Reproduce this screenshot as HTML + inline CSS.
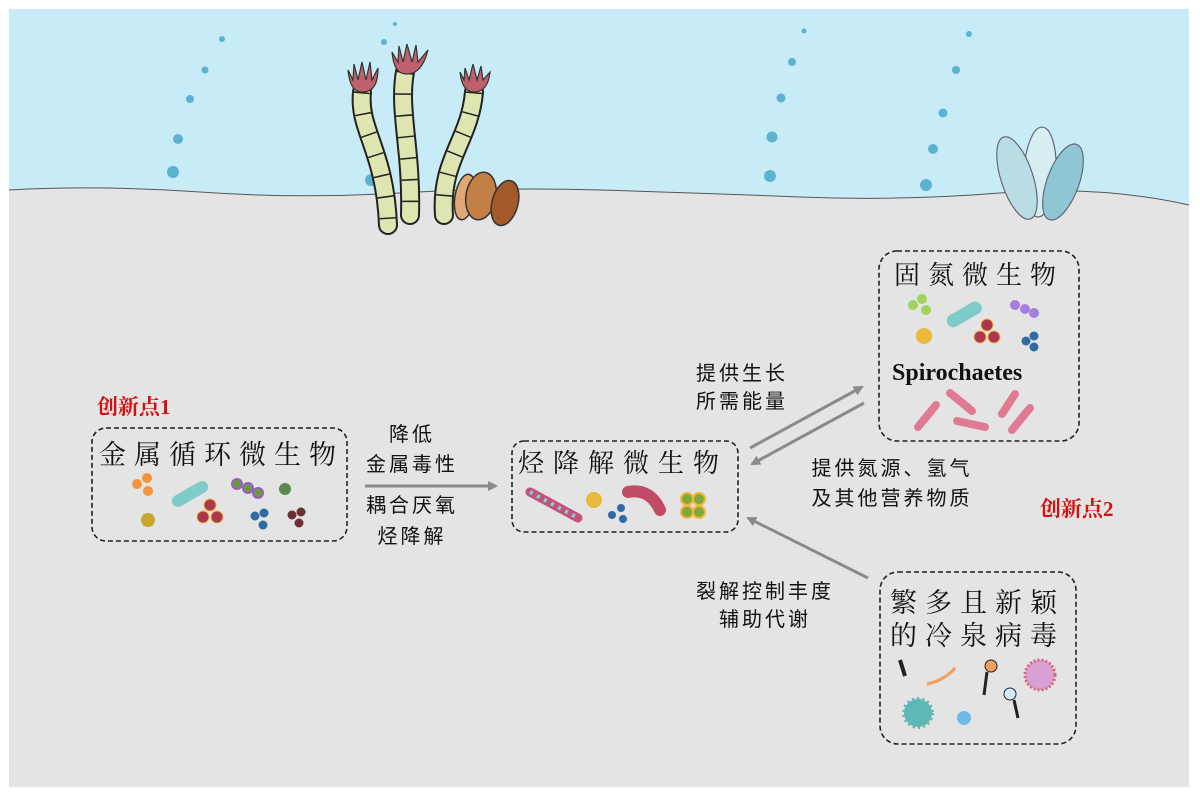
<!DOCTYPE html>
<html><head><meta charset="utf-8"><style>
html,body{margin:0;padding:0;background:#fff;}
svg{display:block;}
text{font-family:"Liberation Sans","Noto Sans CJK SC",sans-serif;}
.cn{font-family:"Liberation Serif","Noto Serif CJK SC","Noto Sans CJK SC",serif;fill:#111;}
</style></head><body>
<svg width="1200" height="799" viewBox="0 0 1200 799" xmlns="http://www.w3.org/2000/svg">
<defs>
<marker id="ah" markerWidth="10" markerHeight="10" refX="8" refY="5" orient="auto" markerUnits="userSpaceOnUse">
<path d="M0,0 L10,5 L0,10 z" fill="#8a8a8a"/></marker>
</defs>
<rect x="9" y="9" width="1180" height="778" fill="#c8ecf7"/>
<path d="M9,190 Q100,185 200,192 T400,193 T600,190 T800,197 T1000,193 T1189,205 L1189,787 L9,787 Z" fill="#e4e4e4"/>
<path d="M9,190 Q100,185 200,192 T400,193 T600,190 T800,197 T1000,193 T1189,205" fill="none" stroke="#555" stroke-width="1"/>
<!-- bubbles -->
<g fill="#5bb3d0">
<circle cx="222" cy="39" r="3"/><circle cx="205" cy="70" r="3.5"/><circle cx="190" cy="99" r="4"/><circle cx="178" cy="139" r="5"/><circle cx="173" cy="172" r="6"/>
<circle cx="395" cy="24" r="2"/><circle cx="384" cy="42" r="3"/><circle cx="371" cy="180" r="6"/>
<circle cx="804" cy="31" r="2.5"/><circle cx="792" cy="62" r="4"/><circle cx="781" cy="98" r="4.5"/><circle cx="772" cy="137" r="5.5"/><circle cx="770" cy="176" r="6"/>
<circle cx="969" cy="34" r="3"/><circle cx="956" cy="70" r="4"/><circle cx="943" cy="113" r="4.5"/><circle cx="933" cy="149" r="5"/><circle cx="926" cy="185" r="6"/>
</g>
<!-- tube worms -->
<g fill="none">
<path d="M362,92 C358,130 385,150 388,225" stroke="#222" stroke-width="20" stroke-linecap="round"/>
<path d="M362,92 C358,130 385,150 388,225" stroke="#dfe5b0" stroke-width="16" stroke-linecap="round"/>
<path d="M362,92 C358,130 385,150 388,225" stroke="#222" stroke-width="16" stroke-dasharray="1.5 20" stroke-linecap="butt"/>
<path d="M405,72 C398,110 412,150 410,215" stroke="#222" stroke-width="20" stroke-linecap="round"/>
<path d="M405,72 C398,110 412,150 410,215" stroke="#dfe5b0" stroke-width="16" stroke-linecap="round"/>
<path d="M405,72 C398,110 412,150 410,215" stroke="#222" stroke-width="16" stroke-dasharray="1.5 20" stroke-linecap="butt"/>
<path d="M474,92 C470,140 440,160 444,215" stroke="#222" stroke-width="20" stroke-linecap="round"/>
<path d="M474,92 C470,140 440,160 444,215" stroke="#dfe5b0" stroke-width="16" stroke-linecap="round"/>
<path d="M474,92 C470,140 440,160 444,215" stroke="#222" stroke-width="16" stroke-dasharray="1.5 20" stroke-linecap="butt"/>
</g>
<g fill="#c0606c" stroke="#333" stroke-width="1.2">
<path d="M348,70 Q350,93 363,92 Q378,92 378,68 L372,80 L370,62 L366,80 L362,62 L358,80 L354,64 L353,80 Z"/>
<path d="M392,52 Q394,75 407,74 Q422,74 428,50 L418,62 L416,45 L412,62 L407,44 L403,62 L399,46 L398,62 Z"/>
<path d="M460,72 Q462,92 474,92 Q488,92 490,72 L483,80 L481,66 L477,80 L473,64 L469,80 L465,68 L464,80 Z"/>
</g>
<g stroke="#333" stroke-width="1.5">
<ellipse cx="465" cy="197" rx="10" ry="23" fill="#dfa774" transform="rotate(10 465 197)"/>
<ellipse cx="481" cy="196" rx="15" ry="24" fill="#c47f44" transform="rotate(10 481 196)"/>
<ellipse cx="505" cy="203" rx="13" ry="23" fill="#a35a2a" transform="rotate(15 505 203)"/>
</g>
<!-- shells -->
<g stroke="#667" stroke-width="1.2">
<ellipse cx="1040" cy="172" rx="16" ry="45" fill="#d6eef2" transform="rotate(3 1040 172)"/>
<ellipse cx="1017" cy="178" rx="16" ry="43" fill="#b9dde5" transform="rotate(-18 1017 178)"/>
<ellipse cx="1063" cy="182" rx="16" ry="40" fill="#8fc6d4" transform="rotate(20 1063 182)"/>
</g>
<!-- boxes -->
<g fill="none" stroke="#222" stroke-width="1.6" stroke-dasharray="5 3">
<rect x="92" y="428" width="255" height="113" rx="14"/>
<rect x="512" y="441" width="226" height="91" rx="12"/>
<rect x="879" y="251" width="200" height="190" rx="18"/>
<rect x="880" y="572" width="196" height="172" rx="18"/>
</g>
<!-- arrows -->
<g stroke="#8a8a8a" stroke-width="3" fill="none">
<line x1="365" y1="486" x2="496" y2="486" marker-end="url(#ah)"/>
<line x1="750" y1="448" x2="862" y2="387" marker-end="url(#ah)"/>
<line x1="864" y1="403" x2="752" y2="464" marker-end="url(#ah)"/>
<line x1="868" y1="578" x2="748" y2="518" marker-end="url(#ah)"/>
</g>
<!-- microbes box1 -->
<g>
<circle cx="137" cy="484" r="5" fill="#f7943a"/><circle cx="147" cy="478" r="5" fill="#f7943a"/><circle cx="148" cy="491" r="5" fill="#f7943a"/>
<rect x="170" y="488" width="40" height="12" rx="6" fill="#7ecbc7" transform="rotate(-30 190 494)"/>
<circle cx="148" cy="520" r="7" fill="#c8a72a"/>
<circle cx="210" cy="505" r="6" fill="#a8374f" stroke="#f3b53a"/><circle cx="203" cy="517" r="6" fill="#a8374f" stroke="#f3b53a"/><circle cx="217" cy="517" r="6" fill="#a8374f" stroke="#f3b53a"/>
<circle cx="237" cy="484" r="5" fill="#6a9a3c" stroke="#9c5cc7" stroke-width="2"/><circle cx="248" cy="488" r="5" fill="#6a9a3c" stroke="#9c5cc7" stroke-width="2"/><circle cx="258" cy="493" r="5" fill="#6a9a3c" stroke="#9c5cc7" stroke-width="2"/>
<circle cx="285" cy="489" r="6" fill="#5b8a4f"/>
<circle cx="255" cy="516" r="4.5" fill="#2f6ca3"/><circle cx="264" cy="513" r="4.5" fill="#2f6ca3"/><circle cx="263" cy="525" r="4.5" fill="#2f6ca3"/>
<circle cx="292" cy="515" r="4.5" fill="#6b3035"/><circle cx="301" cy="512" r="4.5" fill="#6b3035"/><circle cx="299" cy="523" r="4.5" fill="#6b3035"/>
</g>
<!-- microbes box2 -->
<g>
<path d="M530,492 L578,518" stroke="#c5507a" stroke-width="9" stroke-linecap="round"/>
<path d="M530,492 L578,518" stroke="#7fd0cf" stroke-width="4" stroke-dasharray="3 5"/>
<circle cx="594" cy="500" r="8" fill="#eab93a"/>
<circle cx="612" cy="515" r="4" fill="#2f6ca3"/><circle cx="621" cy="508" r="4" fill="#2f6ca3"/><circle cx="623" cy="519" r="4" fill="#2f6ca3"/>
<path d="M628,492 Q650,488 660,510" stroke="#c14a66" stroke-width="12" fill="none" stroke-linecap="round"/>
<g fill="#7ea83a" stroke="#f3b53a" stroke-width="2"><circle cx="687" cy="499" r="6"/><circle cx="699" cy="499" r="6"/><circle cx="687" cy="512" r="6"/><circle cx="699" cy="512" r="6"/></g>
</g>
<!-- microbes box3 -->
<g>
<circle cx="913" cy="305" r="5" fill="#9fd35a"/><circle cx="922" cy="299" r="5" fill="#9fd35a"/><circle cx="926" cy="310" r="5" fill="#9fd35a"/>
<rect x="945" y="308" width="38" height="13" rx="6" fill="#7ecbc7" transform="rotate(-30 964 314)"/>
<circle cx="924" cy="336" r="8" fill="#eab93a"/>
<circle cx="987" cy="325" r="6" fill="#a8374f" stroke="#f3b53a"/><circle cx="980" cy="337" r="6" fill="#a8374f" stroke="#f3b53a"/><circle cx="994" cy="337" r="6" fill="#a8374f" stroke="#f3b53a"/>
<circle cx="1015" cy="305" r="5" fill="#a47fe0"/><circle cx="1025" cy="309" r="5" fill="#a47fe0"/><circle cx="1034" cy="313" r="5" fill="#a47fe0"/>
<circle cx="1026" cy="341" r="4.5" fill="#2f6ca3"/><circle cx="1034" cy="336" r="4.5" fill="#2f6ca3"/><circle cx="1034" cy="347" r="4.5" fill="#2f6ca3"/>
<g stroke="#e07a93" stroke-width="8" stroke-linecap="round">
<line x1="918" y1="427" x2="936" y2="405"/><line x1="950" y1="393" x2="972" y2="411"/><line x1="957" y1="421" x2="985" y2="427"/><line x1="1002" y1="414" x2="1015" y2="394"/><line x1="1012" y1="430" x2="1030" y2="408"/>
</g>
</g>
<!-- box4 viruses -->
<g>
<circle cx="918" cy="713" r="14" fill="#5fb8b5" stroke="#5fb8b5" stroke-width="4" stroke-dasharray="2 3"/>
<circle cx="964" cy="718" r="7" fill="#6fb8e8"/>
<circle cx="1040" cy="675" r="15" fill="#d9a0d5" stroke="#d7667a" stroke-width="3" stroke-dasharray="2 2"/>
<path d="M927,684 Q945,680 955,668" stroke="#f0a060" stroke-width="3" fill="none"/>
<circle cx="991" cy="666" r="6" fill="#f0a060" stroke="#222"/><line x1="987" y1="672" x2="984" y2="695" stroke="#222" stroke-width="3"/>
<circle cx="1010" cy="694" r="6" fill="#d0ecf8" stroke="#222"/><line x1="1014" y1="700" x2="1018" y2="718" stroke="#222" stroke-width="3"/>
<path d="M900,660 L905,676" stroke="#222" stroke-width="4"/>
</g>
<!-- text -->
<g font-size="21" font-weight="bold" fill="#d41010"><text x="97" y="414" style="font-family:'Liberation Serif','Noto Serif CJK SC',serif">创新点1</text>
<text x="1040" y="516" style="font-family:'Liberation Serif','Noto Serif CJK SC',serif">创新点2</text></g>
<text class="cn" x="99" y="464" font-size="27" letter-spacing="8">金属循环微生物</text>
<text class="cn" x="518" y="472" font-size="26" letter-spacing="9">烃降解微生物</text>
<text class="cn" x="894" y="284" font-size="26" letter-spacing="8">固氮微生物</text>
<text x="892" y="380" font-size="24" font-weight="bold" fill="#111" style="font-family:'Liberation Serif',serif">Spirochaetes</text>
<text class="cn" x="890" y="612" font-size="27" letter-spacing="8">繁多且新颖</text>
<text class="cn" x="890" y="645" font-size="27" letter-spacing="8">的冷泉病毒</text>
<g class="cn" font-size="20" text-anchor="middle" letter-spacing="3">
<text x="412" y="441">降低</text>
<text x="412" y="471">金属毒性</text>
<text x="412" y="512">耦合厌氧</text>
<text x="412" y="543">烃降解</text>
<text x="742" y="380">提供生长</text>
<text x="742" y="408">所需能量</text>
<text x="892" y="475">提供氮源、氢气</text>
<text x="892" y="505">及其他营养物质</text>
<text x="765" y="598">裂解控制丰度</text>
<text x="765" y="626">辅助代谢</text>
</g>
</svg>
</body></html>
